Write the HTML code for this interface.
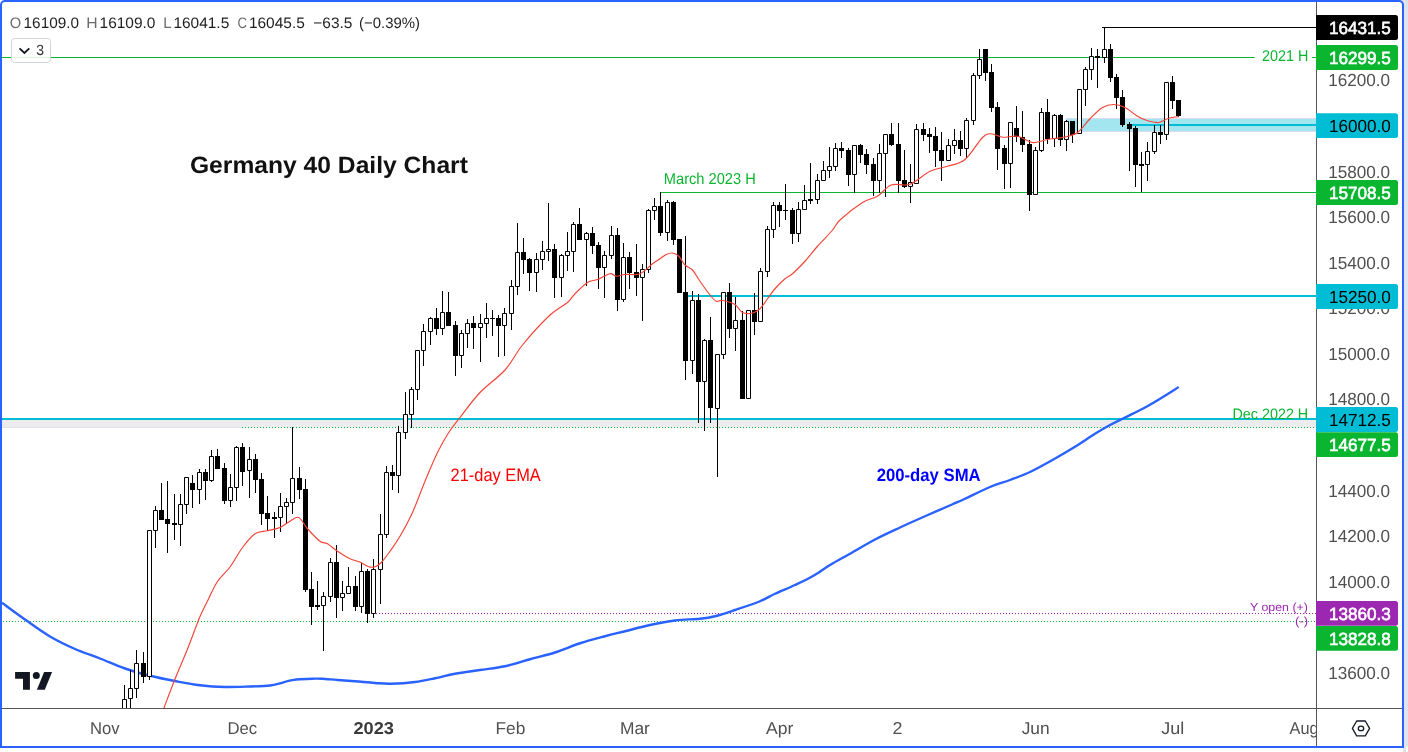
<!DOCTYPE html>
<html><head><meta charset="utf-8"><title>Germany 40 Daily Chart</title>
<style>
html,body{margin:0;padding:0;background:#fff;}
body{width:1408px;height:752px;position:relative;overflow:hidden;font-family:"Liberation Sans",sans-serif;}
#strip{position:absolute;left:1403px;top:0;width:5px;height:752px;background:#e0e3eb;}
#striptop{position:absolute;left:1396px;top:0;width:12px;height:10px;background:#e0e3eb;}
#corner{position:absolute;left:1406px;top:746px;width:8px;height:12px;background:#fff;border-radius:3px 0 0 0;}
#frame{position:absolute;left:0;top:0;width:1400px;height:744px;border:2px solid #2962ff;border-radius:5px 5px 0 0;background:#fff;}
</style></head><body>
<div id="strip"></div><div id="striptop"></div><div id="corner"></div>
<div id="frame"></div>
<svg width="1408" height="752" viewBox="0 0 1408 752" style="position:absolute;left:0;top:0;will-change:transform">
<defs><clipPath id="plot"><rect x="2" y="2" width="1314" height="706"/></clipPath></defs>
<g clip-path="url(#plot)">
<rect x="2" y="420" width="1314" height="7" fill="#ececee"/>
<rect x="2" y="427" width="240" height="1" fill="#dfe3ec"/>
<rect x="242" y="427" width="1074" height="1" fill="#f5f3f9"/>
<rect x="1066.2" y="118" width="250" height="14" fill="#dcdcee"/>
<rect x="1066.2" y="119" width="250" height="12" fill="#a3e6f0"/>
<path d="M2,57.5H1254.7M1312,57.5H1316" stroke="#0ab530" stroke-width="1" fill="none"/>
<path d="M1102,27.5H1316" stroke="#000" stroke-width="1"/>
<path d="M660,192.5H1316" stroke="#0ab530" stroke-width="1"/>
<path d="M687.5,296H1316" stroke="#00bcd4" stroke-width="2"/>
<path d="M2,419H1316" stroke="#00bcd4" stroke-width="2"/>
<path d="M1130.5,125H1316" stroke="#00bcd4" stroke-width="2"/>
<path d="M242,427.5H1316" stroke="#0ab530" stroke-width="1" stroke-dasharray="1,2"/>
<path d="M0,621.5H1316" stroke="#0ab530" stroke-width="1" stroke-dasharray="1,2"/>
<path d="M376,613.5H1316" stroke="#9c27b0" stroke-width="1" stroke-dasharray="1,2"/>
<path d="M2,602.75C5.83,605.54 17,613.88 25,619.5C33,625.12 41.67,631.58 50,636.5C58.33,641.42 66.67,645.33 75,649C83.33,652.67 91.67,655.25 100,658.5C108.33,661.75 116.67,665.62 125,668.5C133.33,671.38 141.67,673.67 150,675.75C158.33,677.83 166.67,679.42 175,681C183.33,682.58 191.67,684.25 200,685.25C208.33,686.25 216.67,686.79 225,687C233.33,687.21 242.5,686.75 250,686.5C257.5,686.25 265,686.02 270,685.5C275,684.98 277.08,684.12 280,683.4C282.92,682.68 285.22,681.78 287.5,681.2C289.78,680.62 291.62,680.22 293.7,679.9C295.78,679.58 296.87,679.5 300,679.3C303.13,679.1 308.83,678.8 312.5,678.7C316.17,678.6 317.83,678.48 322,678.7C326.17,678.92 332,679.58 337.5,680C343,680.42 348.75,680.75 355,681.25C361.25,681.75 369,682.58 375,683C381,683.42 384.33,683.92 391,683.75C397.67,683.58 407.67,682.92 415,682C422.33,681.08 428.33,679.62 435,678.25C441.67,676.88 447.5,675.12 455,673.75C462.5,672.38 471.67,671.25 480,670C488.33,668.75 496.67,668.04 505,666.25C513.33,664.46 521.67,661.54 530,659.25C538.33,656.96 546.67,655.17 555,652.5C563.33,649.83 571.67,645.96 580,643.25C588.33,640.54 597.5,638.25 605,636.25C612.5,634.25 617.5,633.12 625,631.25C632.5,629.38 641.67,626.79 650,625C658.33,623.21 666.67,621.54 675,620.5C683.33,619.46 693.33,619.46 700,618.75C706.67,618.04 709.17,617.71 715,616.25C720.83,614.79 727.5,612.5 735,610C742.5,607.5 753.33,603.96 760,601.25C766.67,598.54 769.17,596.46 775,593.75C780.83,591.04 788.75,587.92 795,585C801.25,582.08 806.67,579.58 812.5,576.25C818.33,572.92 823.75,568.75 830,565C836.25,561.25 842.5,558 850,553.75C857.5,549.5 866.67,543.88 875,539.5C883.33,535.12 891.67,531.38 900,527.5C908.33,523.62 916.33,520.08 925,516.25C933.67,512.42 945.33,507.42 952,504.5C958.67,501.58 958.67,501.67 965,498.75C971.33,495.83 982.5,490.12 990,487C997.5,483.88 1003.33,482.5 1010,480C1016.67,477.5 1022.92,475.33 1030,472C1037.08,468.67 1045,464.21 1052.5,460C1060,455.79 1067.92,451.12 1075,446.75C1082.08,442.38 1089.17,437.38 1095,433.75C1100.83,430.12 1105,427.71 1110,425C1115,422.29 1119.17,420.42 1125,417.5C1130.83,414.58 1139.17,410.62 1145,407.5C1150.83,404.38 1154.38,402.17 1160,398.75C1165.62,395.33 1175.62,388.96 1178.75,387" stroke="#2962ff" stroke-width="2.4" fill="none" stroke-linejoin="round"/>
<path d="M124.5,685V716M130.5,670V709M136.5,650V698M143.5,652V683M149.5,530V680M155.5,506V548M161.5,483V520M167.5,481V553M174.5,494V540M180.5,494V546M186.5,477V514M192.5,475V508M199.5,469V504M205.5,469V500M211.5,450V482M217.5,449V469M224.5,463V504M230.5,474V507M236.5,446V501M242.5,443V486M249.5,447V498M255.5,454V493M261.5,473V525M267.5,496V531M274.5,512V538M280.5,493V532M286.5,498V523M292.5,427V514M299.5,467V499M305.5,479V592M311.5,572V625M317.5,581V610M323.5,592V651M330.5,558V602M336.5,545V618M342.5,581V611M348.5,567V594M355.5,576V611M361.5,563V613M367.5,569V623M373.5,559V618M380.5,514V604M386.5,466V538M392.5,465V490M398.5,426V493M405.5,392V439M411.5,387V428M417.5,350V400M423.5,324V366M430.5,317V345M436.5,308V335M442.5,291V335M448.5,292V326M455.5,321V376M461.5,330V368M467.5,319V348M473.5,316V349M480.5,314V362M486.5,303V338M492.5,310V336M498.5,315V357M504.5,308V356M511.5,280V330M517.5,223V295M523.5,238V274M529.5,258V291M536.5,253V292M542.5,241V270M548.5,203V261M554.5,244V298M561.5,254V297M567.5,232V271M573.5,222V272M579.5,208V240M586.5,232V286M592.5,227V254M598.5,242V289M604.5,251V298M611.5,226V259M617.5,228V311M623.5,243V302M629.5,252V289M636.5,244V296M642.5,264V321M648.5,209V273M654.5,198V220M660.5,192V236M667.5,200V241M673.5,201V245M679.5,239V293M685.5,236V380M692.5,291V374M698.5,294V423M704.5,339V431M710.5,317V423M717.5,354V477M723.5,292V359M729.5,283V338M735.5,297V351M742.5,311V399M748.5,310V399M754.5,293V335M760.5,268V322M767.5,226V277M773.5,202V238M779.5,202V227M785.5,184V220M792.5,208V244M798.5,202V242M804.5,185V210M810.5,163V204M817.5,174V204M823.5,161V181M829.5,147V178M835.5,143V171M841.5,142V158M848.5,148V186M854.5,145V193M860.5,144V163M866.5,149V174M873.5,158V196M879.5,144V193M885.5,134V197M891.5,123V146M898.5,123V193M904.5,150V188M910.5,164V203M916.5,124V184M923.5,123V141M929.5,128V153M935.5,127V167M941.5,132V181M948.5,139V161M954.5,129V154M960.5,131V156M966.5,118V158M973.5,73V125M979.5,49V79M985.5,49V81M991.5,64V112M997.5,102V170M1004.5,145V189M1010.5,122V188M1016.5,106V142M1022.5,111V152M1029.5,140V211M1035.5,147V195M1041.5,108V152M1047.5,99V144M1054.5,114V147M1060.5,114V146M1066.5,120V151M1072.5,121V143M1079.5,89V134M1085.5,67V106M1091.5,48V80M1097.5,49V88M1104.5,27V63M1110.5,44V82M1116.5,74V109M1122.5,90V127M1129.5,122V171M1135.5,126V187M1141.5,152V192M1147.5,142V181M1154.5,125V154M1160.5,125V144M1166.5,82V140M1172.5,76V109M1178.5,100V117" stroke="#000" stroke-width="1" fill="none"/>
<path d="M141,663h5V677h-5zM159,510h5V520h-5zM165,519h5V524h-5zM172,523h5V525h-5zM190,483h5V490h-5zM203,472h5V481h-5zM215,456h5V469h-5zM222,468h5V501h-5zM240,447h5V472h-5zM253,459h5V480h-5zM259,479h5V514h-5zM265,513h5V519h-5zM272,517h5V519h-5zM297,478h5V490h-5zM303,489h5V590h-5zM309,589h5V607h-5zM315,605h5V607h-5zM334,562h5V598h-5zM353,586h5V607h-5zM365,571h5V614h-5zM390,472h5V476h-5zM434,318h5V329h-5zM446,312h5V326h-5zM453,325h5V356h-5zM471,323h5V328h-5zM490,318h5V319h-5zM496,318h5V326h-5zM521,252h5V260h-5zM527,259h5V273h-5zM552,249h5V278h-5zM577,224h5V240h-5zM590,233h5V246h-5zM596,245h5V268h-5zM615,235h5V300h-5zM627,257h5V273h-5zM634,272h5V278h-5zM658,206h5V233h-5zM671,202h5V240h-5zM677,239h5V293h-5zM683,292h5V361h-5zM696,300h5V382h-5zM708,340h5V408h-5zM727,292h5V329h-5zM740,320h5V399h-5zM752,310h5V322h-5zM777,205h5V211h-5zM783,210h5V211h-5zM790,210h5V234h-5zM808,199h5V201h-5zM839,148h5V151h-5zM846,150h5V175h-5zM858,145h5V155h-5zM864,154h5V165h-5zM871,164h5V181h-5zM889,134h5V145h-5zM896,144h5V181h-5zM902,180h5V187h-5zM921,129h5V135h-5zM927,134h5V137h-5zM933,136h5V151h-5zM939,150h5V161h-5zM958,140h5V149h-5zM983,49h5V73h-5zM989,72h5V108h-5zM995,107h5V149h-5zM1002,148h5V164h-5zM1014,128h5V137h-5zM1020,137h5V145h-5zM1027,144h5V195h-5zM1045,112h5V139h-5zM1058,115h5V140h-5zM1070,121h5V135h-5zM1095,56h5V58h-5zM1108,49h5V78h-5zM1114,77h5V98h-5zM1120,97h5V125h-5zM1127,124h5V129h-5zM1133,128h5V165h-5zM1139,164h5V166h-5zM1158,132h5V135h-5zM1170,82h5V101h-5zM1176,100h5V116h-5z" fill="#000"/>
<path d="M122.5,699.5h4V715.5h-4zM128.5,688.5h4V698.5h-4zM134.5,663.5h4V688.5h-4zM147.5,530.5h4V676.5h-4zM153.5,510.5h4V530.5h-4zM178.5,504.5h4V524.5h-4zM184.5,477.5h4V504.5h-4zM197.5,472.5h4V489.5h-4zM209.5,456.5h4V480.5h-4zM228.5,487.5h4V500.5h-4zM234.5,447.5h4V487.5h-4zM247.5,459.5h4V470.5h-4zM278.5,506.5h4V517.5h-4zM284.5,502.5h4V506.5h-4zM290.5,478.5h4V502.5h-4zM321.5,596.5h4V605.5h-4zM328.5,562.5h4V596.5h-4zM340.5,593.5h4V597.5h-4zM346.5,586.5h4V593.5h-4zM359.5,571.5h4V606.5h-4zM371.5,569.5h4V613.5h-4zM378.5,534.5h4V569.5h-4zM384.5,472.5h4V534.5h-4zM396.5,432.5h4V475.5h-4zM403.5,414.5h4V432.5h-4zM409.5,389.5h4V414.5h-4zM415.5,350.5h4V389.5h-4zM421.5,331.5h4V350.5h-4zM428.5,318.5h4V331.5h-4zM440.5,312.5h4V328.5h-4zM459.5,333.5h4V355.5h-4zM465.5,323.5h4V333.5h-4zM478.5,323.5h4V327.5h-4zM484.5,318.5h4V323.5h-4zM502.5,313.5h4V325.5h-4zM509.5,286.5h4V313.5h-4zM515.5,252.5h4V286.5h-4zM534.5,259.5h4V272.5h-4zM540.5,251.5h4V259.5h-4zM546.5,249.5h4V251.5h-4zM559.5,255.5h4V277.5h-4zM565.5,251.5h4V255.5h-4zM571.5,224.5h4V251.5h-4zM584.5,233.5h4V239.5h-4zM602.5,255.5h4V267.5h-4zM609.5,235.5h4V255.5h-4zM621.5,257.5h4V299.5h-4zM640.5,269.5h4V277.5h-4zM646.5,210.5h4V269.5h-4zM652.5,206.5h4V210.5h-4zM665.5,202.5h4V232.5h-4zM690.5,300.5h4V360.5h-4zM702.5,340.5h4V381.5h-4zM715.5,354.5h4V408.5h-4zM721.5,292.5h4V354.5h-4zM733.5,320.5h4V328.5h-4zM746.5,310.5h4V398.5h-4zM758.5,271.5h4V321.5h-4zM765.5,229.5h4V271.5h-4zM771.5,205.5h4V229.5h-4zM796.5,209.5h4V233.5h-4zM802.5,200.5h4V209.5h-4zM815.5,180.5h4V199.5h-4zM821.5,170.5h4V180.5h-4zM827.5,166.5h4V170.5h-4zM833.5,148.5h4V166.5h-4zM852.5,145.5h4V174.5h-4zM877.5,153.5h4V180.5h-4zM883.5,134.5h4V153.5h-4zM908.5,182.5h4V186.5h-4zM914.5,129.5h4V183.5h-4zM946.5,145.5h4V160.5h-4zM952.5,140.5h4V145.5h-4zM964.5,120.5h4V148.5h-4zM971.5,75.5h4V120.5h-4zM977.5,59.5h4V75.5h-4zM1008.5,122.5h4V163.5h-4zM1033.5,150.5h4V194.5h-4zM1039.5,112.5h4V150.5h-4zM1052.5,115.5h4V138.5h-4zM1064.5,121.5h4V139.5h-4zM1077.5,89.5h4V133.5h-4zM1083.5,69.5h4V89.5h-4zM1089.5,56.5h4V69.5h-4zM1102.5,49.5h4V57.5h-4zM1145.5,151.5h4V164.5h-4zM1152.5,132.5h4V151.5h-4zM1164.5,82.5h4V134.5h-4z" fill="#fff" stroke="#000" stroke-width="1"/>
<path d="M163.75,708.5C165.62,703.58 171.04,688.92 175,679C178.96,669.08 183.33,659.42 187.5,649C191.67,638.58 196.58,624.67 200,616.5C203.42,608.33 205.08,605.83 208,600C210.92,594.17 213.83,587 217.5,581.5C221.17,576 225.83,572.67 230,567C234.17,561.33 238.33,553.04 242.5,547.5C246.67,541.96 250.83,536.54 255,533.75C259.17,530.96 263.33,531.79 267.5,530.75C271.67,529.71 276.25,529.08 280,527.5C283.75,525.92 286.88,522.92 290,521.25C293.12,519.58 295.83,516.25 298.75,517.5C301.67,518.75 303.96,524.79 307.5,528.75C311.04,532.71 316.67,538.75 320,541.25C323.33,543.75 324.58,542.08 327.5,543.75C330.42,545.42 333.75,548.75 337.5,551.25C341.25,553.75 346.25,556.96 350,558.75C353.75,560.54 356.88,560.67 360,562C363.12,563.33 366.25,565.96 368.75,566.75C371.25,567.54 372.92,567.46 375,566.75C377.08,566.04 378.75,565.08 381.25,562.5C383.75,559.92 386.88,555.62 390,551.25C393.12,546.88 396.25,542.71 400,536.25C403.75,529.79 408.33,521.67 412.5,512.5C416.67,503.33 420.83,491.25 425,481.25C429.17,471.25 433.54,460.62 437.5,452.5C441.46,444.38 445,438.33 448.75,432.5C452.5,426.67 454.79,424.17 460,417.5C465.21,410.83 472.5,400.42 480,392.5C487.5,384.58 497.92,377.92 505,370C512.08,362.08 515.21,353.96 522.5,345C529.79,336.04 541.25,323.33 548.75,316.25C556.25,309.17 563.12,306.25 567.5,302.5C571.88,298.75 571.67,297.08 575,293.75C578.33,290.42 583.75,284.88 587.5,282.5C591.25,280.12 593.75,280.96 597.5,279.5C601.25,278.04 606.88,274.29 610,273.75C613.12,273.21 613.75,276.12 616.25,276.25C618.75,276.38 621.04,274.92 625,274.5C628.96,274.08 635.42,275.54 640,273.75C644.58,271.96 649.17,266.25 652.5,263.75C655.83,261.25 657.71,260.29 660,258.75C662.29,257.21 664.17,255.46 666.25,254.5C668.33,253.54 670.42,252.71 672.5,253C674.58,253.29 676.67,254.25 678.75,256.25C680.83,258.25 682.71,262.71 685,265C687.29,267.29 690,267.29 692.5,270C695,272.71 697.08,277.08 700,281.25C702.92,285.42 707.29,291.67 710,295C712.71,298.33 714.17,300.33 716.25,301.25C718.33,302.17 719.38,299.96 722.5,300.5C725.62,301.04 731.67,302.5 735,304.5C738.33,306.5 739.58,311.08 742.5,312.5C745.42,313.92 749.58,313.62 752.5,313C755.42,312.38 757.5,311.12 760,308.75C762.5,306.38 765,302.08 767.5,298.75C770,295.42 772.08,292.08 775,288.75C777.92,285.42 782.08,281.25 785,278.75C787.92,276.25 789.17,276.67 792.5,273.75C795.83,270.83 800.83,265.83 805,261.25C809.17,256.67 813,251.33 817.5,246.25C822,241.17 828.25,235.12 832,230.75C835.75,226.38 834.92,224.71 840,220C845.08,215.29 856.25,206.46 862.5,202.5C868.75,198.54 872.71,199.17 877.5,196.25C882.29,193.33 885.83,187 891.25,185C896.67,183 903.54,186.54 910,184.25C916.46,181.96 923.75,174.25 930,171.25C936.25,168.25 941.67,168.21 947.5,166.25C953.33,164.29 959.17,164.29 965,159.5C970.83,154.71 978.12,141.79 982.5,137.5C986.88,133.21 987.92,133.79 991.25,133.75C994.58,133.71 998.12,136.83 1002.5,137.25C1006.88,137.67 1012.5,135.38 1017.5,136.25C1022.5,137.12 1027.5,141.96 1032.5,142.5C1037.5,143.04 1042.08,140.42 1047.5,139.5C1052.92,138.58 1060,138.17 1065,137C1070,135.83 1073.33,135.54 1077.5,132.5C1081.67,129.46 1085.83,122.92 1090,118.75C1094.17,114.58 1098.54,109.88 1102.5,107.5C1106.46,105.12 1110,104.5 1113.75,104.5C1117.5,104.5 1121.04,105.54 1125,107.5C1128.96,109.46 1133.75,114.04 1137.5,116.25C1141.25,118.46 1143.96,119.71 1147.5,120.75C1151.04,121.79 1155.42,122.83 1158.75,122.5C1162.08,122.17 1164.79,119.67 1167.5,118.75C1170.21,117.83 1173.12,117.33 1175,117C1176.88,116.67 1178.12,116.83 1178.75,116.8" stroke="#f44336" stroke-width="1.15" fill="none" stroke-linejoin="round"/>
<text text-rendering="geometricPrecision" transform="translate(189.96,173.3) scale(1.0441,1)" font-family='"Liberation Sans", sans-serif' font-size="23.6" fill="#111" font-weight="bold">Germany 40 Daily Chart</text>
<text text-rendering="geometricPrecision" transform="translate(450.58,480.85) scale(0.9110,1)" font-family='"Liberation Sans", sans-serif' font-size="18" fill="#ff0000" font-weight="normal">21-day EMA</text>
<text text-rendering="geometricPrecision" transform="translate(876.64,480.7) scale(0.9395,1)" font-family='"Liberation Sans", sans-serif' font-size="17.8" fill="#0000ff" font-weight="bold">200-day SMA</text>
<text text-rendering="geometricPrecision" transform="translate(663.79,183.9) scale(0.9274,1)" font-family='"Liberation Sans", sans-serif' font-size="15.8" fill="#0ab530" font-weight="normal">March 2023 H</text>
<text text-rendering="geometricPrecision" transform="translate(1262.05,60.95) scale(0.9254,1)" font-family='"Liberation Sans", sans-serif' font-size="15.5" fill="#0ab530" font-weight="normal">2021 H</text>
<text text-rendering="geometricPrecision" transform="translate(1232.46,418.7) scale(0.9504,1)" font-family='"Liberation Sans", sans-serif' font-size="15.1" fill="#0ab530" font-weight="normal">Dec 2022 H</text>
<text text-rendering="geometricPrecision" transform="translate(1249.99,611.2) scale(1.0667,1)" font-family='"Liberation Sans", sans-serif' font-size="11.6" fill="#9c27b0" font-weight="normal">Y open (+)</text>
<text text-rendering="geometricPrecision" transform="translate(1295.11,624.6) scale(1.1246,1)" font-family='"Liberation Sans", sans-serif' font-size="11.6" fill="#9c27b0" font-weight="normal">(-)</text>
</g>
<path d="M15.1,672.1H29.9V689.8H23V678.7H15.1z" fill="#131722"/>
<circle cx="36.3" cy="675.5" r="3.5" fill="#131722"/>
<path d="M44.1,672.1H52.1L44.8,689.8H36.9z" fill="#131722"/>
<rect x="2" y="708" width="1400" height="1" fill="#555"/>
<rect x="1316" y="2" width="1" height="744" fill="#555"/>
<text text-rendering="geometricPrecision" transform="translate(89.89,733.5) scale(0.9679,1)" font-family='"Liberation Sans", sans-serif' font-size="17.2" fill="#505050" font-weight="normal">Nov</text>
<text text-rendering="geometricPrecision" transform="translate(227.39,733.5) scale(0.9727,1)" font-family='"Liberation Sans", sans-serif' font-size="17.2" fill="#505050" font-weight="normal">Dec</text>
<text text-rendering="geometricPrecision" transform="translate(353.47,733.5) scale(1.0592,1)" font-family='"Liberation Sans", sans-serif' font-size="17.2" fill="#3a3a3a" font-weight="bold">2023</text>
<text text-rendering="geometricPrecision" transform="translate(495.49,733.5) scale(1.0046,1)" font-family='"Liberation Sans", sans-serif' font-size="17.2" fill="#505050" font-weight="normal">Feb</text>
<text text-rendering="geometricPrecision" transform="translate(619.98,733.5) scale(1.0109,1)" font-family='"Liberation Sans", sans-serif' font-size="17.2" fill="#505050" font-weight="normal">Mar</text>
<text text-rendering="geometricPrecision" transform="translate(766,733.5) scale(1.0174,1)" font-family='"Liberation Sans", sans-serif' font-size="17.2" fill="#505050" font-weight="normal">Apr</text>
<text text-rendering="geometricPrecision" transform="translate(892.57,733.5) scale(1.0375,1)" font-family='"Liberation Sans", sans-serif' font-size="17.2" fill="#505050" font-weight="normal">2</text>
<text text-rendering="geometricPrecision" transform="translate(1021.7,733.5) scale(1.0088,1)" font-family='"Liberation Sans", sans-serif' font-size="17.2" fill="#505050" font-weight="normal">Jun</text>
<text text-rendering="geometricPrecision" transform="translate(1161.19,733.5) scale(1.0452,1)" font-family='"Liberation Sans", sans-serif' font-size="17.2" fill="#505050" font-weight="normal">Jul</text>
<clipPath id="tc"><rect x="1200" y="709" width="116" height="40"/></clipPath>
<g clip-path="url(#tc)">
<text text-rendering="geometricPrecision" transform="translate(1289.6,733.5) scale(0.9479,1)" font-family='"Liberation Sans", sans-serif' font-size="17.2" fill="#505050" font-weight="normal">Aug</text>
</g>
<text text-rendering="geometricPrecision" transform="translate(1328.13,86.4) scale(0.9736,1)" font-family='"Liberation Sans", sans-serif' font-size="17.6" fill="#505050" font-weight="normal">16200.0</text>
<text text-rendering="geometricPrecision" transform="translate(1328.13,177.55) scale(0.9736,1)" font-family='"Liberation Sans", sans-serif' font-size="17.6" fill="#505050" font-weight="normal">15800.0</text>
<text text-rendering="geometricPrecision" transform="translate(1328.13,223.12) scale(0.9736,1)" font-family='"Liberation Sans", sans-serif' font-size="17.6" fill="#505050" font-weight="normal">15600.0</text>
<text text-rendering="geometricPrecision" transform="translate(1328.13,268.7) scale(0.9736,1)" font-family='"Liberation Sans", sans-serif' font-size="17.6" fill="#505050" font-weight="normal">15400.0</text>
<text text-rendering="geometricPrecision" transform="translate(1328.13,314.27) scale(0.9736,1)" font-family='"Liberation Sans", sans-serif' font-size="17.6" fill="#505050" font-weight="normal">15200.0</text>
<text text-rendering="geometricPrecision" transform="translate(1328.13,359.85) scale(0.9736,1)" font-family='"Liberation Sans", sans-serif' font-size="17.6" fill="#505050" font-weight="normal">15000.0</text>
<text text-rendering="geometricPrecision" transform="translate(1328.13,405.42) scale(0.9736,1)" font-family='"Liberation Sans", sans-serif' font-size="17.6" fill="#505050" font-weight="normal">14800.0</text>
<text text-rendering="geometricPrecision" transform="translate(1328.13,496.57) scale(0.9736,1)" font-family='"Liberation Sans", sans-serif' font-size="17.6" fill="#505050" font-weight="normal">14400.0</text>
<text text-rendering="geometricPrecision" transform="translate(1328.13,542.14) scale(0.9736,1)" font-family='"Liberation Sans", sans-serif' font-size="17.6" fill="#505050" font-weight="normal">14200.0</text>
<text text-rendering="geometricPrecision" transform="translate(1328.13,587.72) scale(0.9736,1)" font-family='"Liberation Sans", sans-serif' font-size="17.6" fill="#505050" font-weight="normal">14000.0</text>
<text text-rendering="geometricPrecision" transform="translate(1328.13,678.86) scale(0.9736,1)" font-family='"Liberation Sans", sans-serif' font-size="17.6" fill="#505050" font-weight="normal">13600.0</text>
<path d="M1316,15.1H1395.5Q1398,15.1 1398,17.6V37.4Q1398,39.9 1395.5,39.9H1316z" fill="#000"/>
<text text-rendering="geometricPrecision" transform="translate(1328.93,33.65) scale(0.9735,1)" font-family='"Liberation Sans", sans-serif' font-size="17.6" fill="#fff" font-weight="normal" stroke="#fff" stroke-width="0.6">16431.5</text>
<path d="M1316,45.1H1395.5Q1398,45.1 1398,47.6V67.4Q1398,69.9 1395.5,69.9H1316z" fill="#0ab530"/>
<text text-rendering="geometricPrecision" transform="translate(1328.93,63.65) scale(0.9735,1)" font-family='"Liberation Sans", sans-serif' font-size="17.6" fill="#fff" font-weight="normal" stroke="#fff" stroke-width="0.6">16299.5</text>
<path d="M1316,113.3H1395.5Q1398,113.3 1398,115.8V135.6Q1398,138.1 1395.5,138.1H1316z" fill="#00bcd4"/>
<text text-rendering="geometricPrecision" transform="translate(1328.94,131.85) scale(0.9720,1)" font-family='"Liberation Sans", sans-serif' font-size="17.6" fill="#000" font-weight="normal">16000.0</text>
<path d="M1316,180.1H1395.5Q1398,180.1 1398,182.6V202.4Q1398,204.9 1395.5,204.9H1316z" fill="#0ab530"/>
<text text-rendering="geometricPrecision" transform="translate(1328.93,198.65) scale(0.9735,1)" font-family='"Liberation Sans", sans-serif' font-size="17.6" fill="#fff" font-weight="normal" stroke="#fff" stroke-width="0.6">15708.5</text>
<path d="M1316,284.1H1395.5Q1398,284.1 1398,286.6V306.4Q1398,308.9 1395.5,308.9H1316z" fill="#00bcd4"/>
<text text-rendering="geometricPrecision" transform="translate(1328.94,302.65) scale(0.9720,1)" font-family='"Liberation Sans", sans-serif' font-size="17.6" fill="#000" font-weight="normal">15250.0</text>
<path d="M1316,407.1H1395.5Q1398,407.1 1398,409.6V429.4Q1398,431.9 1395.5,431.9H1316z" fill="#00bcd4"/>
<text text-rendering="geometricPrecision" transform="translate(1328.93,425.65) scale(0.9735,1)" font-family='"Liberation Sans", sans-serif' font-size="17.6" fill="#000" font-weight="normal">14712.5</text>
<path d="M1316,432.2H1395.5Q1398,432.2 1398,434.7V454.5Q1398,457 1395.5,457H1316z" fill="#0ab530"/>
<text text-rendering="geometricPrecision" transform="translate(1328.93,450.75) scale(0.9735,1)" font-family='"Liberation Sans", sans-serif' font-size="17.6" fill="#fff" font-weight="normal" stroke="#fff" stroke-width="0.6">14677.5</text>
<path d="M1316,601H1395.5Q1398,601 1398,603.5V623.3Q1398,625.8 1395.5,625.8H1316z" fill="#9c27b0"/>
<text text-rendering="geometricPrecision" transform="translate(1328.93,619.55) scale(0.9735,1)" font-family='"Liberation Sans", sans-serif' font-size="17.6" fill="#fff" font-weight="normal" stroke="#fff" stroke-width="0.6">13860.3</text>
<path d="M1316,626H1395.5Q1398,626 1398,628.5V648.3Q1398,650.8 1395.5,650.8H1316z" fill="#0ab530"/>
<text text-rendering="geometricPrecision" transform="translate(1328.93,644.55) scale(0.9735,1)" font-family='"Liberation Sans", sans-serif' font-size="17.6" fill="#fff" font-weight="normal" stroke="#fff" stroke-width="0.6">13828.8</text>
<path d="M1352.4,728.4L1356.7,721L1365.3,721L1369.6,728.4L1365.3,735.8L1356.7,735.8Z" fill="none" stroke="#131722" stroke-width="1.3" stroke-linejoin="round"/>
<ellipse cx="1361" cy="728.4" rx="2.7" ry="2.3" fill="none" stroke="#131722" stroke-width="1.3"/>
<text text-rendering="geometricPrecision" transform="translate(9.67,28.05) scale(0.9663,1)" font-family='"Liberation Sans", sans-serif' font-size="15.2" fill="#6b6b6b" font-weight="normal">O</text>
<text text-rendering="geometricPrecision" transform="translate(23.59,28.05) scale(1.0096,1)" font-family='"Liberation Sans", sans-serif' font-size="15.2" fill="#1f1f1f" font-weight="normal">16109.0</text>
<text text-rendering="geometricPrecision" transform="translate(86.36,28.05) scale(1.0349,1)" font-family='"Liberation Sans", sans-serif' font-size="15.2" fill="#6b6b6b" font-weight="normal">H</text>
<text text-rendering="geometricPrecision" transform="translate(99.58,28.05) scale(1.0171,1)" font-family='"Liberation Sans", sans-serif' font-size="15.2" fill="#1f1f1f" font-weight="normal">16109.0</text>
<text text-rendering="geometricPrecision" transform="translate(163.22,28.05) scale(0.9853,1)" font-family='"Liberation Sans", sans-serif' font-size="15.2" fill="#6b6b6b" font-weight="normal">L</text>
<text text-rendering="geometricPrecision" transform="translate(173.38,28.05) scale(1.0171,1)" font-family='"Liberation Sans", sans-serif' font-size="15.2" fill="#1f1f1f" font-weight="normal">16041.5</text>
<text text-rendering="geometricPrecision" transform="translate(237.39,28.05) scale(0.8660,1)" font-family='"Liberation Sans", sans-serif' font-size="15.2" fill="#6b6b6b" font-weight="normal">C</text>
<text text-rendering="geometricPrecision" transform="translate(248.88,28.05) scale(1.0189,1)" font-family='"Liberation Sans", sans-serif' font-size="15.2" fill="#1f1f1f" font-weight="normal">16045.5</text>
<text text-rendering="geometricPrecision" transform="translate(313.29,28.05) scale(1.0186,1)" font-family='"Liberation Sans", sans-serif' font-size="15.2" fill="#1f1f1f" font-weight="normal">&#8722;63.5</text>
<text text-rendering="geometricPrecision" transform="translate(359.02,28.05) scale(0.9828,1)" font-family='"Liberation Sans", sans-serif' font-size="15.2" fill="#1f1f1f" font-weight="normal">(&#8722;0.39%)</text>
<rect x="11.5" y="38.5" width="39" height="24" rx="3" fill="rgba(255,255,255,0.86)" stroke="#d1d4dc" stroke-width="1"/>
<path d="M19.5,48.3L24.4,53L29.3,48.3" fill="none" stroke="#131722" stroke-width="1.8"/>
<text text-rendering="geometricPrecision" transform="translate(36.22,54.7) scale(0.9571,1)" font-family='"Liberation Sans", sans-serif' font-size="14.6" fill="#333" font-weight="normal">3</text>
</svg>
</body></html>
